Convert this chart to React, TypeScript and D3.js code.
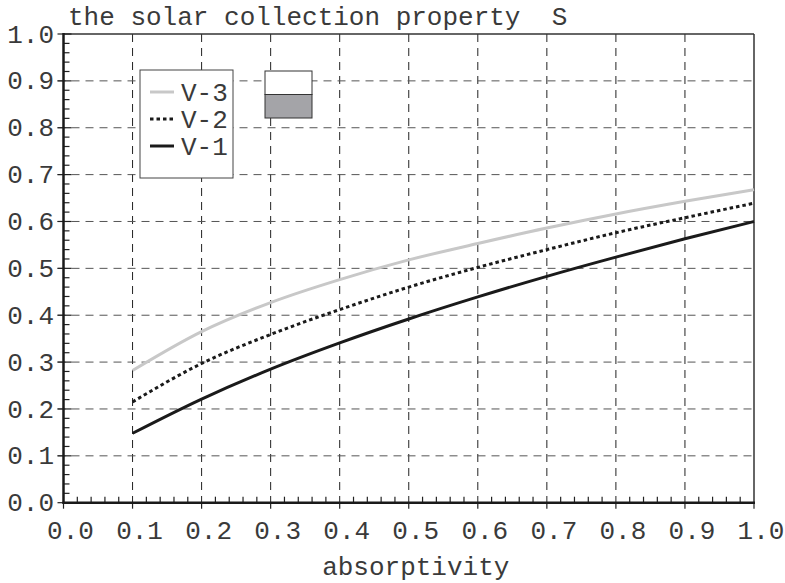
import React from "react";
import * as d3 from "d3";

const absorptivity = [0.1, 0.2, 0.3, 0.4, 0.5, 0.6, 0.7, 0.8, 0.9, 1.0];
const seriesV1 = [0.148, 0.221, 0.285, 0.341, 0.392, 0.439, 0.483, 0.524, 0.563, 0.6];
const seriesV2 = [0.215, 0.297, 0.359, 0.412, 0.46, 0.502, 0.54, 0.576, 0.608, 0.639];
const seriesV3 = [0.282, 0.365, 0.427, 0.476, 0.518, 0.553, 0.586, 0.616, 0.643, 0.668];
const seriesNames = ["V-3", "V-2", "V-1"];
const majorTicks = [0, 0.1, 0.2, 0.3, 0.4, 0.5, 0.6, 0.7, 0.8, 0.9, 1.0];
const titleText = "the solar collection property  S";
const xTitle = "absorptivity";

const W = 785;
const H = 583;
const left = 63.5;
const right = 754;
const top = 34;
const bottom = 502.7;
const FONT = "'Liberation Mono', 'Courier New', monospace";

export default function App() {
  const x = d3.scaleLinear().domain([0, 1]).range([left, right]);
  const y = d3.scaleLinear().domain([0, 1]).range([bottom, top]);
  const minor = d3.range(0, 1.0001, 0.02).filter((v) => Math.abs(Math.round(v * 10) - v * 10) > 1e-6);

  const mk = (vals: number[]) =>
    d3
      .line<number>()
      .x((_, i) => x(absorptivity[i]))
      .y((v) => y(v))
      .curve(d3.curveMonotoneX)(vals) || "";

  const series = [
    { name: seriesNames[0], vals: seriesV3, stroke: "#c8c8c8", dash: undefined as string | undefined },
    { name: seriesNames[1], vals: seriesV2, stroke: "#1a1a1a", dash: "3.5,3" },
    { name: seriesNames[2], vals: seriesV1, stroke: "#1a1a1a", dash: undefined },
  ];

  const legendY = [92, 119, 146];

  return (
    <svg
      width={W}
      height={H}
      style={{ position: "absolute", left: 0, top: 0, background: "#fff" }}
      fontFamily={FONT}
    >
      <rect x={0} y={0} width={W} height={H} fill="#fff" />
      {/* grid */}
      {majorTicks.slice(1, -1).map((t) => (
        <line
          key={"gx" + t}
          x1={x(t)}
          x2={x(t)}
          y1={top}
          y2={bottom + 5}
          stroke="#222"
          strokeWidth={1}
          strokeDasharray="8,6"
        />
      ))}
      {majorTicks.slice(1, -1).map((t) => (
        <line
          key={"gy" + t}
          x1={left - 6}
          x2={right}
          y1={y(t)}
          y2={y(t)}
          stroke="#555"
          strokeWidth={1}
          strokeDasharray="8,6"
        />
      ))}
      {/* frame top/right */}
      <line x1={left} x2={right} y1={top} y2={top} stroke="#333" strokeWidth={1.5} />
      <line x1={right} x2={right} y1={top} y2={bottom} stroke="#333" strokeWidth={1.5} />
      {/* minor ticks */}
      {minor.map((t) => (
        <line key={"mx" + t} x1={x(t)} x2={x(t)} y1={bottom} y2={bottom - 6} stroke="#222" strokeWidth={1.2} />
      ))}
      {minor.map((t) => (
        <line key={"my" + t} x1={left} x2={left + 6} y1={y(t)} y2={y(t)} stroke="#222" strokeWidth={1.2} />
      ))}
      {/* major ticks */}
      {majorTicks.map((t) => (
        <line key={"Mx" + t} x1={x(t)} x2={x(t)} y1={bottom} y2={bottom + 6} stroke="#222" strokeWidth={1.2} />
      ))}
      {majorTicks.map((t) => (
        <line key={"My" + t} x1={left - 6} x2={left + 8} y1={y(t)} y2={y(t)} stroke="#222" strokeWidth={1.2} />
      ))}
      {/* axes */}
      <line x1={left} x2={left} y1={top - 1} y2={bottom + 1} stroke="#1a1a1a" strokeWidth={2.5} />
      <line x1={left - 1} x2={right + 1} y1={bottom} y2={bottom} stroke="#1a1a1a" strokeWidth={2.5} />
      {/* tick labels */}
      {majorTicks.map((t) => (
        <text
          key={"lx" + t}
          x={x(t) + 7}
          y={539}
          textAnchor="middle"
          fontSize={26}
          fill="#3a3a3a"
        >
          {t.toFixed(1)}
        </text>
      ))}
      {majorTicks.map((t) => (
        <text
          key={"ly" + t}
          x={54}
          y={y(t)}
          dy="0.33em"
          textAnchor="end"
          fontSize={26}
          fill="#3a3a3a"
        >
          {t.toFixed(1)}
        </text>
      ))}
      {/* series */}
      {series.map((s) => (
        <path
          key={s.name}
          d={mk(s.vals)}
          fill="none"
          stroke={s.stroke}
          strokeWidth={3}
          strokeDasharray={s.dash}
        />
      ))}
      {/* legend */}
      <rect x={140} y={70} width={93} height={108} fill="#fff" stroke="#444" strokeWidth={1} />
      {series.map((s, i) => (
        <g key={"lg" + s.name}>
          <line
            x1={150}
            x2={174}
            y1={legendY[i]}
            y2={legendY[i]}
            stroke={s.stroke}
            strokeWidth={3}
            strokeDasharray={s.dash}
          />
          <text x={181} y={legendY[i]} dy="0.33em" fontSize={26} fill="#3a3a3a">
            {s.name}
          </text>
        </g>
      ))}
      {/* small box */}
      <rect x={265} y={71} width={47} height={23.5} fill="#fff" stroke="#333" strokeWidth={1} />
      <rect x={265} y={94.5} width={47} height={23.5} fill="#a4a4a8" stroke="#333" strokeWidth={1} />
      {/* titles */}
      <text x={68} y={25} fontSize={26} fill="#3a3a3a" xmlSpace="preserve" style={{ whiteSpace: "pre" }}>
        {titleText}
      </text>
      <text x={(left + right) / 2 + 7} y={575} textAnchor="middle" fontSize={26} fill="#3a3a3a">
        {xTitle}
      </text>
    </svg>
  );
}
